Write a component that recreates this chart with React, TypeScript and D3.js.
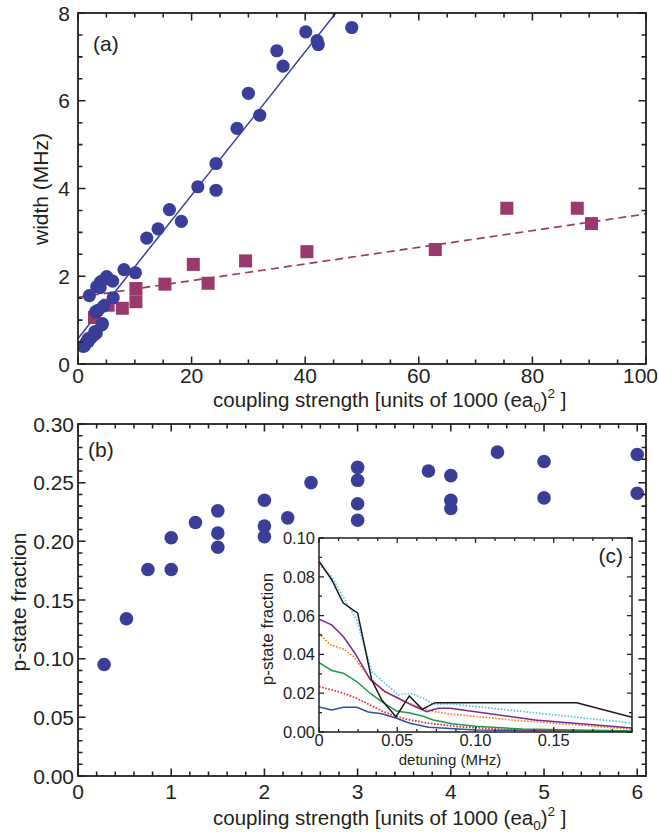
import React from 'react';
import * as d3 from 'd3';

const FONT = '"Liberation Sans", Arial, Helvetica, sans-serif';

// ---- panel (a): line width vs coupling strength ----
const widthCircles: [number, number][] = [
  [0.9, 0.4], [1.1, 0.41], [1.5, 0.51], [1.8, 0.51], [1.8, 0.58], [2.3, 0.6],
  [2.8, 0.66], [3.0, 0.74], [3.2, 0.7], [4.2, 0.89], [4.3, 0.92], [3.1, 1.19],
  [3.5, 1.22], [4.5, 1.32], [6.2, 1.51], [2.0, 1.56], [3.3, 1.76], [3.9, 1.74],
  [3.9, 1.86], [4.2, 1.89], [5.05, 1.99], [6.1, 1.89], [8.1, 2.15], [10.1, 2.08],
  [12.1, 2.87], [14.1, 3.08], [16.1, 3.52], [18.2, 3.25], [21.1, 4.04], [24.3, 3.96],
  [24.3, 4.57], [28.0, 5.37], [30.0, 6.17], [32.0, 5.67], [35.0, 7.14], [36.1, 6.79],
  [40.1, 7.57], [42.1, 7.37], [42.3, 7.28], [48.2, 7.67],
];
const widthSquares: [number, number][] = [
  [2.9, 1.06], [5.3, 1.34], [7.8, 1.27], [10.2, 1.72], [10.2, 1.42], [15.3, 1.82],
  [20.3, 2.27], [22.9, 1.84], [29.5, 2.35], [40.3, 2.56], [62.9, 2.61], [75.5, 3.55],
  [87.9, 3.55], [90.4, 3.2],
];
const fitCircles: [number, number][] = [[0, 0.58], [45.4, 8.0]];
const fitSquares: [number, number][] = [[0, 1.52], [100, 3.42]];
const aTicksX = [0, 20, 40, 60, 80, 100];
const aTicksY = [0, 2, 4, 6, 8];

// ---- panel (b): p-state fraction vs coupling strength ----
const pFraction: [number, number][] = [
  [0.28, 0.095], [0.52, 0.134], [0.75, 0.176], [1.0, 0.176], [1.0, 0.203], [1.26, 0.216],
  [1.5, 0.226], [1.5, 0.207], [1.5, 0.195], [2.0, 0.235], [2.0, 0.213], [2.0, 0.204],
  [2.25, 0.22], [2.5, 0.25], [3.0, 0.263], [3.0, 0.252], [3.0, 0.232], [3.0, 0.218],
  [3.76, 0.26], [4.0, 0.256], [4.0, 0.235], [4.0, 0.228], [4.5, 0.276], [5.0, 0.268],
  [5.0, 0.237], [6.0, 0.274], [6.0, 0.241],
];
const bTicksX = [0, 1, 2, 3, 4, 5, 6];
const bTicksY = [0, 0.05, 0.1, 0.15, 0.2, 0.25, 0.3];

// ---- panel (c): p-state fraction vs detuning ----
const cBlack: [number, number][] = [
  [0, 0.088], [0.0081, 0.0785], [0.0155, 0.0665], [0.0247, 0.0613], [0.0337, 0.0268],
  [0.0401, 0.0165], [0.0492, 0.0079], [0.0577, 0.0186], [0.066, 0.0117], [0.0741, 0.0151],
  [0.1647, 0.0151], [0.2, 0.0076],
];
const cCyan: [number, number][] = [
  [0, 0.0865], [0.0081, 0.08], [0.0166, 0.068], [0.0241, 0.0578], [0.0337, 0.0311],
  [0.0422, 0.0251], [0.0507, 0.0191], [0.0581, 0.02], [0.0666, 0.0174], [0.073, 0.0143],
  [0.0837, 0.0145], [0.1815, 0.0062], [0.2, 0.0047],
];
const cPurple: [number, number][] = [
  [0, 0.0582], [0.0081, 0.0552], [0.0155, 0.0492], [0.023, 0.0406], [0.0326, 0.0272],
  [0.0422, 0.0208], [0.0507, 0.0174], [0.0603, 0.0135], [0.0688, 0.0105], [0.0762, 0.0122],
  [0.0837, 0.0122], [0.138, 0.0062], [0.2, 0.002],
];
const cOrange: [number, number][] = [
  [0, 0.051], [0.007, 0.045], [0.0155, 0.0428], [0.0219, 0.039], [0.0326, 0.0277],
  [0.0411, 0.0212], [0.0496, 0.0178], [0.0581, 0.0147], [0.0666, 0.012], [0.0752, 0.0103],
  [0.0837, 0.0093], [0.1231, 0.0062], [0.2, 0.0015],
];
const cGreen: [number, number][] = [
  [0, 0.0358], [0.0081, 0.0317], [0.0155, 0.0303], [0.0241, 0.026], [0.0326, 0.02],
  [0.0411, 0.0151], [0.0496, 0.0108], [0.0581, 0.0098], [0.0666, 0.0081], [0.073, 0.0062],
  [0.085, 0.0042], [0.1, 0.003], [0.13, 0.0015], [0.2, 0.0005],
];
const cRed: [number, number][] = [
  [0, 0.0234], [0.0081, 0.0217], [0.0155, 0.02], [0.0241, 0.0174], [0.0326, 0.0139],
  [0.0411, 0.0105], [0.0496, 0.0079], [0.0581, 0.0062], [0.07, 0.0045], [0.09, 0.0027],
  [0.12, 0.0012], [0.2, 0.0003],
];
const cBlue: [number, number][] = [
  [0, 0.0129], [0.0081, 0.0114], [0.0155, 0.0128], [0.0241, 0.0127], [0.0315, 0.0103],
  [0.0401, 0.0094], [0.0496, 0.0071], [0.058, 0.0045], [0.07, 0.0025], [0.1, 0.001],
  [0.2, 0.0003],
];
const cTicksX = [0, 0.05, 0.1, 0.15];
const cTickLabelsX = ['0', '0.05', '0.10', '0.15'];
const cTicksY = [0, 0.02, 0.04, 0.06, 0.08, 0.1];

const cSeries = [
  { pts: cBlue, color: '#2f4fa6', dotted: false },
  { pts: cRed, color: '#e8262b', dotted: true },
  { pts: cGreen, color: '#1c9a4a', dotted: false },
  { pts: cOrange, color: '#f4821f', dotted: true },
  { pts: cPurple, color: '#7b2a8a', dotted: false },
  { pts: cCyan, color: '#56c5de', dotted: true },
  { pts: cBlack, color: '#1a1a1a', dotted: false },
];

const BLUE = '#3b3e99';
const MAGENTA = '#9a3a6c';
const AXIS = '#231f20';

const xa = d3.scaleLinear().domain([0, 100]).range([78, 646]);
const ya = d3.scaleLinear().domain([0, 8]).range([364, 13]);
const xb = d3.scaleLinear().domain([0, 6.094]).range([78, 646]);
const yb = d3.scaleLinear().domain([0, 0.3]).range([776, 424]);
const xc = d3.scaleLinear().domain([0, 0.2]).range([319, 632]);
const yc = d3.scaleLinear().domain([0, 0.1]).range([732, 538]);

const steps = (a: number, b: number, s: number) =>
  d3.range(Math.round((b - a) / s) + 1).map(i => a + i * s);

function Frame(props: {
  x: d3.ScaleLinear<number, number>; y: d3.ScaleLinear<number, number>;
  xMaj: number[]; xMin: number[]; yMaj: number[]; yMin: number[];
  lMaj: number; lMin: number; sw: number;
}) {
  const { x, y, xMaj, xMin, yMaj, yMin, lMaj, lMin, sw } = props;
  const [l, r] = x.range();
  const [b, t] = y.range();
  const segs: string[] = [];
  xMin.forEach(v => { const p = x(v); segs.push(`M${p},${b}V${b - lMin}M${p},${t}V${t + lMin}`); });
  xMaj.forEach(v => { const p = x(v); segs.push(`M${p},${b}V${b - lMaj}M${p},${t}V${t + lMaj}`); });
  yMin.forEach(v => { const p = y(v); segs.push(`M${l},${p}H${l + lMin}M${r},${p}H${r - lMin}`); });
  yMaj.forEach(v => { const p = y(v); segs.push(`M${l},${p}H${l + lMaj}M${r},${p}H${r - lMaj}`); });
  return (
    <g>
      <path d={segs.join('')} stroke={AXIS} strokeWidth={sw * 0.85} fill="none" />
      <rect x={l} y={t} width={r - l} height={b - t} fill="none" stroke={AXIS} strokeWidth={sw} />
    </g>
  );
}

function CouplingLabel(props: { y: number }) {
  return (
    <text x={213} y={props.y} fontSize={20.5} fill={AXIS}>
      coupling strength [units of 1000 (ea<tspan fontSize={13.5} dy={5}>0</tspan><tspan dy={-5}>)</tspan>
      <tspan fontSize={13.5} dy={-9}>2</tspan><tspan dy={9}> ]</tspan>
    </text>
  );
}

export default function App() {
  const lineA = d3.line<[number, number]>().x(d => xa(d[0])).y(d => ya(d[1]));
  const lineC = d3.line<[number, number]>().x(d => xc(d[0])).y(d => yc(d[1]));

  return (
    <svg width={659} height={832} style={{ position: 'absolute', left: 0, top: 0, background: '#fff' }}
      fontFamily={FONT}>
      <defs>
        <clipPath id="clipA"><rect x={78} y={13} width={568} height={351} /></clipPath>
        <clipPath id="clipC"><rect x={319} y={538} width={313} height={194} /></clipPath>
      </defs>

      {/* panel (a) */}
      <g clipPath="url(#clipA)">
        <path d={lineA(fitSquares) || ''} stroke={MAGENTA} strokeWidth={1.7} strokeDasharray="8 5" fill="none" />
        <path d={lineA(fitCircles) || ''} stroke={BLUE} strokeWidth={1.5} fill="none" />
        {widthSquares.map((d, i) => (
          <rect key={'s' + i} x={xa(d[0]) - 6.5} y={ya(d[1]) - 6.5} width={13} height={13} fill={MAGENTA} />
        ))}
        {widthCircles.map((d, i) => (
          <circle key={'c' + i} cx={xa(d[0])} cy={ya(d[1])} r={6.6} fill={BLUE} />
        ))}
      </g>
      <Frame x={xa} y={ya} xMaj={aTicksX} xMin={steps(0, 100, 5)} yMaj={aTicksY} yMin={steps(0, 8, 0.5)}
        lMaj={7.5} lMin={4.5} sw={1.8} />
      {aTicksY.map(v => (
        <text key={'ay' + v} x={70} y={ya(v)} dy="0.36em" fontSize={21} textAnchor="end" fill={AXIS}>{v}</text>
      ))}
      {aTicksX.map(v => (
        <text key={'ax' + v} x={v === 100 ? 658 : xa(v)} y={383} fontSize={21}
          textAnchor={v === 100 ? 'end' : 'middle'} fill={AXIS}>{v}</text>
      ))}
      <text x={93} y={51} fontSize={21} fill={AXIS}>(a)</text>
      <text transform="translate(48,189) rotate(-90)" fontSize={21} textAnchor="middle" fill={AXIS}>width (MHz)</text>
      <CouplingLabel y={407} />

      {/* panel (b) */}
      {pFraction.map((d, i) => (
        <circle key={'b' + i} cx={xb(d[0])} cy={yb(d[1])} r={6.8} fill={BLUE} />
      ))}
      <Frame x={xb} y={yb} xMaj={bTicksX} xMin={steps(0, 6, 0.2)} yMaj={bTicksY} yMin={steps(0, 0.3, 0.01)}
        lMaj={7.5} lMin={4.5} sw={1.8} />
      {bTicksY.map(v => (
        <text key={'by' + v} x={74} y={yb(v)} dy="0.36em" fontSize={21} textAnchor="end" fill={AXIS}>{v.toFixed(2)}</text>
      ))}
      {bTicksX.map(v => (
        <text key={'bx' + v} x={xb(v)} y={799} fontSize={21} textAnchor="middle" fill={AXIS}>{v}</text>
      ))}
      <text x={88} y={457} fontSize={21} fill={AXIS}>(b)</text>
      <text transform="translate(26,602) rotate(-90)" fontSize={21} textAnchor="middle" fill={AXIS}>p-state fraction</text>
      <CouplingLabel y={825} />

      {/* inset (c) */}
      <rect x={319} y={538} width={313} height={194} fill="#fff" />
      <g clipPath="url(#clipC)">
        {cSeries.map((s, i) => (
          <path key={'cs' + i} d={lineC(s.pts) || ''} fill="none" stroke={s.color}
            strokeWidth={s.dotted ? 1.7 : 1.5} strokeDasharray={s.dotted ? '1.6 1.6' : undefined} />
        ))}
      </g>
      <Frame x={xc} y={yc} xMaj={cTicksX} xMin={steps(0, 0.2, 0.0125)} yMaj={cTicksY} yMin={steps(0, 0.1, 0.01)}
        lMaj={5} lMin={3} sw={1.5} />
      {cTicksY.map(v => (
        <text key={'cy' + v} x={315} y={yc(v)} dy="0.36em" fontSize={16.5} textAnchor="end" fill={AXIS}>{v.toFixed(2)}</text>
      ))}
      {cTicksX.map((v, i) => (
        <text key={'cx' + v} x={xc(v)} y={746} fontSize={16.5} textAnchor="middle" fill={AXIS}>{cTickLabelsX[i]}</text>
      ))}
      <text x={623} y={563} fontSize={21} textAnchor="end" fill={AXIS}>(c)</text>
      <text transform="translate(273,629) rotate(-90)" fontSize={17} textAnchor="middle" fill={AXIS}>p-state fraction</text>
      <text x={450} y={765} fontSize={15} textAnchor="middle" fill={AXIS}>detuning (MHz)</text>
    </svg>
  );
}
